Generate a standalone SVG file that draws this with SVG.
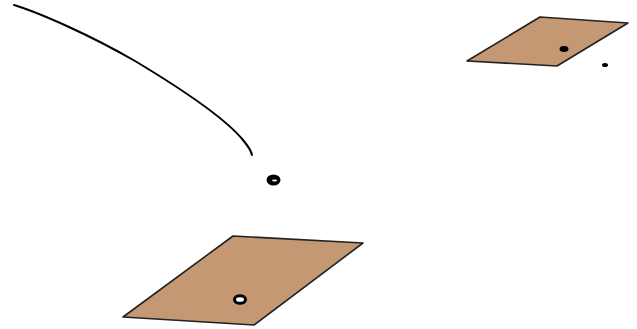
<svg xmlns="http://www.w3.org/2000/svg" width="637" height="329" viewBox="0 0 637 329">
<style>
.plate{fill:#c49873;stroke:#222;stroke-width:1.6;stroke-linejoin:round}
.ink{fill:#000}
.line{fill:none;stroke:#000;stroke-linecap:round}
</style>
<rect width="637" height="329" fill="#fff"/>
<g id="curve">
<path class="line" stroke-width="2" d="M14,5 C40,13 90,35 135,61 C180,88 225,118 243,140 C248,146 251,150 252,155"/>
</g>
<g id="plate-top">
<polygon class="plate" points="540,17 628,23 557,66 467,61"/>
<ellipse class="ink" cx="564" cy="49" rx="4.5" ry="3"/>
<ellipse class="ink" cx="605" cy="65" rx="3" ry="2"/>
</g>
<g id="plate-bottom">
<polygon class="plate" points="233,236 363,243 254,325 123,317"/>
<ellipse fill="#fff" stroke="#000" stroke-width="3" cx="240" cy="299.5" rx="5.5" ry="3.8"/>
</g>
<g id="blob">
<ellipse class="ink" cx="273.5" cy="180" rx="7" ry="5.5"/>
<ellipse fill="#fff" cx="274.5" cy="180.5" rx="2.5" ry="1"/>
</g>
</svg>
